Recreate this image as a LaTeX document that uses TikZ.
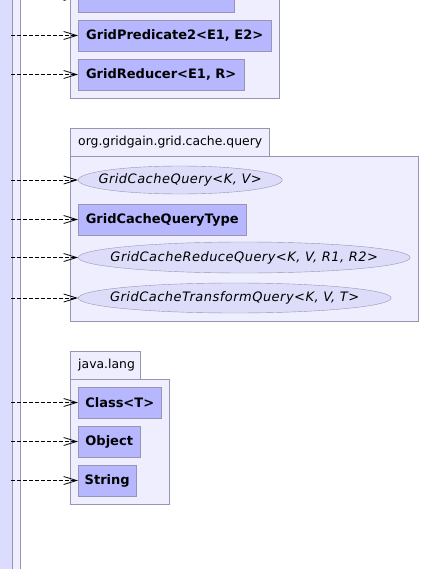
\documentclass[tikz,border=0pt]{standalone}
\usepackage{fontspec}
\setmainfont{DejaVu Sans}
\newfontfamily\ifacefont[LetterSpace=3.7]{DejaVu Sans Oblique}
\usetikzlibrary{arrows.meta,shapes.geometric}
\definecolor{boxfill}{RGB}{183,183,255}
\definecolor{ellfill}{RGB}{221,221,250}
\definecolor{pkgfill}{RGB}{238,238,255}
\definecolor{barfill}{RGB}{220,220,255}
\definecolor{edge}{RGB}{150,150,180}
\tikzset{
  classbox/.style={rectangle, draw=edge, fill=boxfill, anchor=west, inner sep=0pt,
    minimum height=31pt, font=\bfseries\fontsize{13}{15}\selectfont},
  ifacebox/.style={ellipse, draw=edge, fill=ellfill, anchor=west, inner sep=0pt},
  ifacetext/.style={font=\ifacefont\fontsize{13}{15}\selectfont, inner sep=0pt},
  pkg/.style={draw=edge, fill=pkgfill},
  pkglabel/.style={anchor=west, inner sep=0pt, font=\fontsize{12.4}{14}\selectfont},
  dep/.style={dash pattern=on 4pt off 2pt, black, line width=0.8pt,
    -{Straight Barb[length=13pt,width=8pt,line width=0.8pt]}}
}
\begin{document}
\begin{tikzpicture}[x=1pt,y=-1pt]
\useasboundingbox (0,0) rectangle (420,569);
% left lifeline bars
\fill[barfill] (0,-5) rectangle (12.5,575);
\draw[pkg] (12.5,-5) rectangle (20.5,575);
% package 1 (cut off)
\draw[pkg] (70,-40) rectangle (279,98);
\node[classbox, minimum width=156pt] (t0) at (78,-3.5) {};
\node[classbox, minimum width=193pt] (p2) at (78,35.5) {GridPredicate2<E1, E2>};
\node[classbox, minimum width=166pt] (red) at (78,74.5) {GridReducer<E1, R>};
% package 2
\draw[pkg] (70,128) rectangle (269,156);
\node[pkglabel] (l2) at (78,142) {org.gridgain.grid.cache.query};
\draw[pkg] (70,156) rectangle (418,321);
\node[ifacebox, minimum width=204pt, minimum height=28pt,
  label={[ifacetext]center:GridCacheQuery<K, V>}] (q) at (78,180) {};
\node[classbox, minimum width=168pt] (qt) at (78,219.5) {GridCacheQueryType};
\node[ifacebox, minimum width=332pt, minimum height=31pt,
  label={[ifacetext]center:GridCacheReduceQuery<K, V, R1, R2>}] (rq) at (78,257.5) {};
\node[ifacebox, minimum width=313pt, minimum height=30pt,
  label={[ifacetext]center:GridCacheTransformQuery<K, V, T>}] (tq) at (78,298) {};
% package 3
\draw[pkg] (70,351) rectangle (140,379);
\node[pkglabel] (l3) at (78,365) {java.lang};
\draw[pkg] (70,379) rectangle (169,504);
\node[classbox, minimum width=83pt] (cls) at (78,402.5) {Class<T>};
\node[classbox, minimum width=62pt] (obj) at (78,441.5) {Object};
\node[classbox, minimum width=58pt] (str) at (78,480.5) {String};
% dependency sources
\foreach \n/\y in {t0/-3.5, p2/35.5, red/74.5, q/180, qt/219.5, rq/257.5, tq/298, cls/402.5, obj/441.5, str/480.5}{
  \coordinate (s\n) at (11,\y);
  \draw[dep] (s\n) -- (\n.west);
}
\end{tikzpicture}
\end{document}
